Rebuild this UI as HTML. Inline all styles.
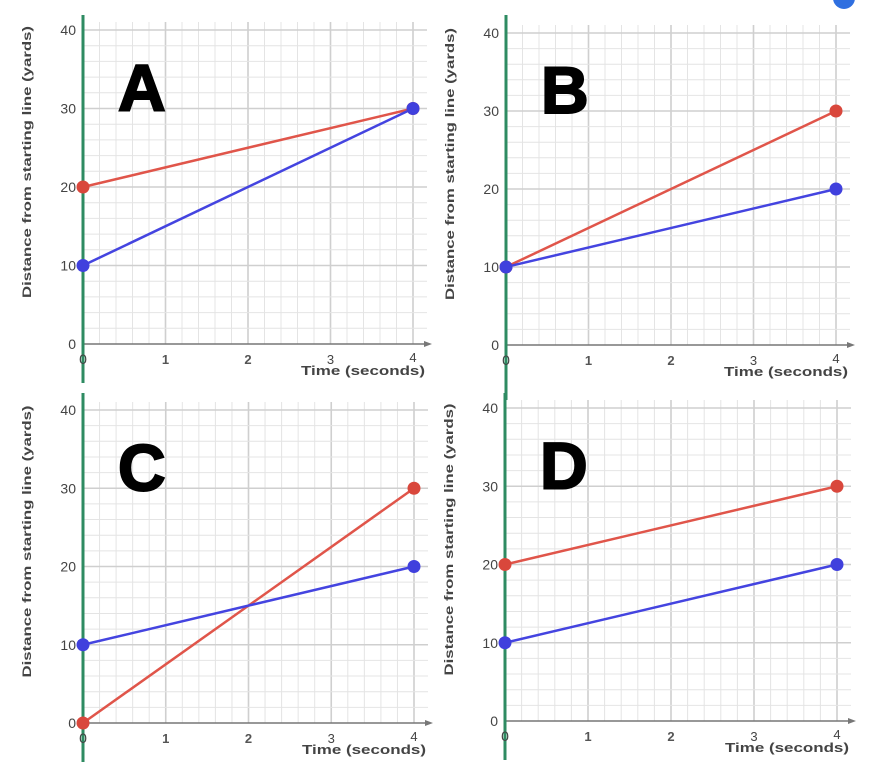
<!DOCTYPE html>
<html><head><meta charset="utf-8"><style>
body{margin:0;background:#fff;}
svg{display:block;font-family:"Liberation Sans",sans-serif;}
</style></head><body>
<svg id="s" width="872" height="776" viewBox="0 0 872 776" xmlns="http://www.w3.org/2000/svg"></svg>
<script>
var P=[
 {x0:83,x4:413,y0:344,y40:30,gt:15,gb:383,L:"A",r:[20,30],b:[10,30]},
 {x0:506,x4:836,y0:345,y40:33,gt:15,gb:400,L:"B",r:[10,30],b:[10,20]},
 {x0:83,x4:414,y0:723,y40:410,gt:393,gb:762,L:"C",r:[0,30],b:[10,20]},
 {x0:505,x4:837,y0:721,y40:408,gt:393,gb:760,L:"D",r:[20,30],b:[10,20]}
];
var h='';
P.forEach(function(p){
 var ux=(p.x4-p.x0)/4, uy=(p.y0-p.y40)/40;
 var X=function(t){return p.x0+t*ux}, Y=function(v){return p.y0-v*uy};
 var right=p.x4+14, top=p.y40-8;
 for(var i=1;i<=21;i++){var x=p.x0+i*ux/5;if(x>right)break;h+='<line x1="'+x+'" y1="'+top+'" x2="'+x+'" y2="'+(p.y0)+'" stroke="'+(i%5==0?'#cfcfcf':'#e4e4e4')+'" stroke-width="'+(i%5==0?1.6:1)+'"/>';}
 for(var j=1;j<=21;j++){var y=p.y0-j*uy*2;if(y<top)break;h+='<line x1="'+p.x0+'" y1="'+y+'" x2="'+right+'" y2="'+y+'" stroke="'+(j%5==0?'#cfcfcf':'#e4e4e4')+'" stroke-width="'+(j%5==0?1.6:1)+'"/>';}
 h+='<line x1="'+p.x0+'" y1="'+p.y0+'" x2="'+(right)+'" y2="'+p.y0+'" stroke="#777" stroke-width="1.5"/>';
 h+='<polygon points="'+(right+5)+','+p.y0+' '+(right-3)+','+(p.y0-3)+' '+(right-3)+','+(p.y0+3)+'" fill="#777"/>';
 h+='<line x1="'+p.x0+'" y1="'+p.gt+'" x2="'+p.x0+'" y2="'+p.gb+'" stroke="#2e8b62" stroke-width="3"/>';
 [0,10,20,30,40].forEach(function(v){h+='<text x="'+(p.x0-7)+'" y="'+(Y(v)+5)+'" font-size="14" fill="#444" text-anchor="end">'+v+'</text>';});
 h+='<text x="'+p.x0+'" y="'+(p.y0+20)+'" font-size="14" fill="#444" text-anchor="middle">0</text>';
 [1,2].forEach(function(t){h+='<text x="'+X(t)+'" y="'+(p.y0+20)+'" font-size="13" font-weight="bold" fill="#555" text-anchor="middle">'+t+'</text>';});
 h+='<text x="'+X(3)+'" y="'+(p.y0+20)+'" font-size="13" fill="#444" text-anchor="middle">3</text>';
 h+='<text x="'+X(4)+'" y="'+(p.y0+18)+'" font-size="13" fill="#444" text-anchor="middle">4</text>';
 h+='<text x="'+(p.x4-112)+'" y="'+(p.y0+31)+'" font-size="13" font-weight="bold" fill="#444" textLength="124" lengthAdjust="spacingAndGlyphs">Time (seconds)</text>';
 var cy=(p.y0+p.y40)/2-24, tx=p.x0-52;
 h+='<text transform="translate('+tx+','+(cy+135)+') rotate(-90)" font-size="12" font-weight="bold" fill="#444" textLength="272" lengthAdjust="spacingAndGlyphs">Distance from starting line (yards)</text>';
 h+='<text x="'+(p.x0+35)+'" y="'+(Y(30)+2)+'" font-size="66" font-weight="bold" fill="#000" stroke="#000" stroke-width="2">'+p.L+'</text>';
 h+='<line x1="'+X(0)+'" y1="'+Y(p.r[0])+'" x2="'+X(4)+'" y2="'+Y(p.r[1])+'" stroke="#e0554a" stroke-width="2.5"/>';
 h+='<line x1="'+X(0)+'" y1="'+Y(p.b[0])+'" x2="'+X(4)+'" y2="'+Y(p.b[1])+'" stroke="#4444e0" stroke-width="2.5"/>';
 h+='<circle cx="'+X(0)+'" cy="'+Y(p.r[0])+'" r="6.5" fill="#d9473c"/>';
 h+='<circle cx="'+X(4)+'" cy="'+Y(p.r[1])+'" r="6.5" fill="#d9473c"/>';
 h+='<circle cx="'+X(0)+'" cy="'+Y(p.b[0])+'" r="6.5" fill="#4040dd"/>';
 h+='<circle cx="'+X(4)+'" cy="'+Y(p.b[1])+'" r="6.5" fill="#4040dd"/>';
});
h+='<circle cx="844" cy="-2" r="11" fill="#2f6fe0"/>';
document.getElementById('s').innerHTML=h;
</script>
</body></html>
